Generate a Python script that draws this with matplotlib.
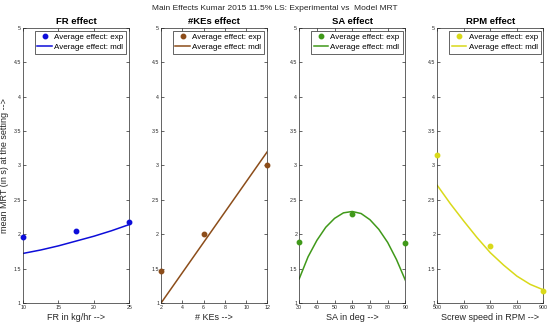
import matplotlib
matplotlib.use('Agg')
import matplotlib.pyplot as plt

plt.rcParams['font.family'] = ['Liberation Sans', 'DejaVu Sans']

# experimental averages
fr_x = [10, 17.5, 25]
fr_exp = [1.96, 2.04, 2.18]
ke_x = [2, 6, 12]
ke_exp = [1.47, 2.0, 3.0]
sa_x = [30, 60, 90]
sa_exp = [1.89, 2.29, 1.87]
rpm_x = [500, 700, 900]
rpm_exp = [3.15, 1.83, 1.18]

# model curves
fr_mx = [10, 12.5, 15, 17.5, 20, 22.5, 25]
fr_mdl = [1.72, 1.77, 1.83, 1.90, 1.97, 2.05, 2.14]
ke_mx = [2, 12]
ke_mdl = [1.0, 3.2]
sa_mx = [30, 35, 40, 45, 50, 55, 60, 65, 70, 75, 80, 85, 90]
sa_mdl = [1.35, 1.67, 1.91, 2.10, 2.23, 2.31, 2.33, 2.30, 2.21, 2.07, 1.88, 1.63, 1.33]
rpm_mx = [500, 550, 600, 650, 700, 750, 800, 850, 900]
rpm_mdl = [2.71, 2.44, 2.19, 1.95, 1.73, 1.55, 1.39, 1.27, 1.19]

panels = [
    ('FR effect', 'FR in kg/hr -->', fr_x, fr_exp, fr_mx, fr_mdl, (0.05, 0.05, 0.85), [10, 15, 20, 25]),
    ('#KEs effect', '# KEs -->', ke_x, ke_exp, ke_mx, ke_mdl, (0.55, 0.3, 0.1), [2, 4, 6, 8, 10, 12]),
    ('SA effect', 'SA in deg -->', sa_x, sa_exp, sa_mx, sa_mdl, (0.25, 0.6, 0.1), [30, 40, 50, 60, 70, 80, 90]),
    ('RPM effect', 'Screw speed in RPM -->', rpm_x, rpm_exp, rpm_mx, rpm_mdl, (0.85, 0.85, 0.1), [500, 600, 700, 800, 900]),
]

lefts = [0.042, 0.293, 0.544, 0.795]
fig = plt.figure(figsize=(5.5, 3.25), dpi=100)
fig.text(0.5, 0.975, 'Main Effects Kumar 2015 11.5% LS: Experimental vs  Model MRT',
         ha='center', va='center', fontsize=6, color='#262626')

yt = [1, 1.5, 2, 2.5, 3, 3.5, 4, 4.5, 5]
for i, (title, xlabel, x, ye, mx, ym, col, xt) in enumerate(panels):
    ax = fig.add_axes([lefts[i], 0.068, 0.193, 0.846])
    ax.plot(x, ye, 'o', color=col, markersize=3.2, label='Average effect: exp', clip_on=False, zorder=3)
    ax.plot(mx, ym, '-', color=col, linewidth=1.1, label='Average effect: mdl')
    ax.set_xlim(xt[0], xt[-1])
    ax.set_ylim(1, 5)
    ax.set_xticks(xt)
    ax.set_xticklabels([str(v) for v in xt])
    ax.set_yticks(yt)
    ax.set_yticklabels(['%g' % v for v in yt])
    ax.tick_params(direction='in', length=2, width=0.5, labelsize=3.8, colors='#262626',
                   top=True, right=True, pad=1.5)
    for s in ax.spines.values():
        s.set_linewidth(0.5)
        s.set_color('#262626')
    ax.set_title(title, fontsize=6.8, fontweight='bold', pad=3)
    ax.set_xlabel(xlabel, fontsize=6.5, labelpad=2, color='#262626')
    if i == 0:
        ax.set_ylabel('mean MRT (in s) at the setting -->', fontsize=6.5, labelpad=3, color='#262626')
    leg = ax.legend(loc='upper right', fontsize=5.8, fancybox=False, framealpha=1,
                    edgecolor='#262626', borderpad=0.35, handlelength=1.8,
                    handletextpad=0.3, labelspacing=0.25, borderaxespad=0.35)
    leg.get_frame().set_linewidth(0.5)

fig.savefig('out.png', dpi=100)
